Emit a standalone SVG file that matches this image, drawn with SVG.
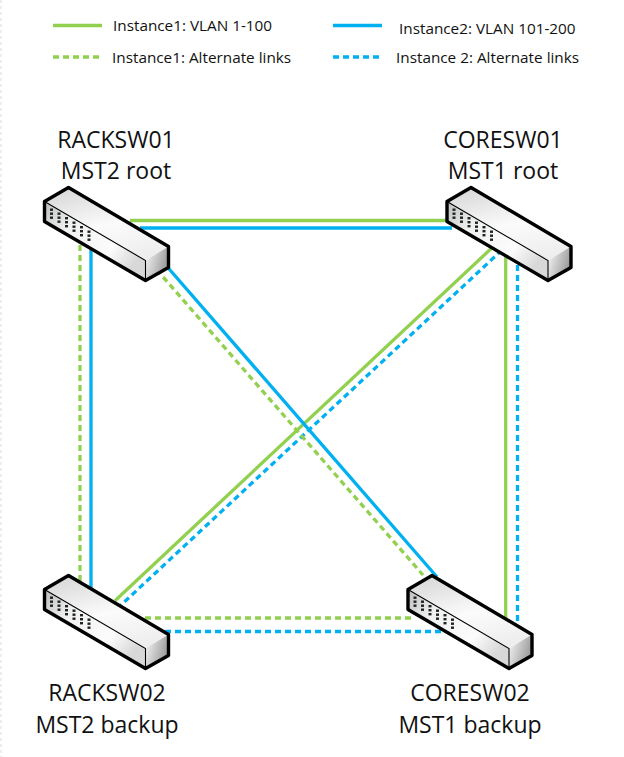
<svg xmlns="http://www.w3.org/2000/svg" width="624" height="757" viewBox="0 0 624 757">
  <style>
    text { font-family: "Open Sans", "Liberation Sans", sans-serif; fill: #111111; }
    .legend { font-size: 15.300px; }
    .name { font-size: 23px; text-anchor: middle; }
    .link { fill: none; stroke-width: 3.300; }
    .green { stroke: #92d050; }
    .blue { stroke: #00b0f0; }
    .dash { stroke-dasharray: 6 4; }
    .edge { stroke: #000; stroke-width: 3.4; stroke-linejoin: round; fill: none; }
    .crease { stroke: #000; stroke-width: 1.1; fill: none; }
    .port { fill: #1f2622; }
  </style>
  <defs>
    <linearGradient id="topFace" x1="0.2" y1="0" x2="0.6" y2="1">
      <stop offset="0" stop-color="#d8d8d8"/>
      <stop offset="0.55" stop-color="#fbfbfb"/>
      <stop offset="1" stop-color="#eeeeee"/>
    </linearGradient>
    <linearGradient id="frontFace" x1="0" y1="0" x2="1" y2="0.6">
      <stop offset="0" stop-color="#bdbdbd"/>
      <stop offset="0.3" stop-color="#f0f0f0"/>
      <stop offset="0.75" stop-color="#fcfcfc"/>
      <stop offset="1" stop-color="#d8d8d8"/>
    </linearGradient>
    <linearGradient id="endFace" x1="0" y1="0" x2="1" y2="0.4">
      <stop offset="0" stop-color="#fafafa"/>
      <stop offset="1" stop-color="#9a9a9a"/>
    </linearGradient>
    <g id="switch">
      <path d="M24 -14 L124 45 L101 59 L0 0 Z" fill="url(#topFace)"/>
      <path d="M0 0 L101 59 L101 79 L0 20 Z" fill="url(#frontFace)"/>
      <path d="M101 59 L124 45 L124 66 L101 79 Z" fill="url(#endFace)"/>
      <path class="edge" d="M0 0 L24 -14 L124 45 L124 66 L101 79 L0 20 Z"/>
      <path class="crease" d="M0 0 L101 59 L101 79"/>
      <g class="port">
        <rect x="5.500" y="7" width="3" height="2.400"/><rect x="5.500" y="11" width="3" height="2.400"/><rect x="5.500" y="15" width="3" height="2.400"/>
        <rect x="13" y="11" width="3" height="2.400"/><rect x="13" y="15" width="3" height="2.400"/><rect x="13" y="19" width="3" height="2.400"/>
        <rect x="20.500" y="15.500" width="3" height="2.400"/><rect x="20.500" y="19.500" width="3" height="2.400"/><rect x="20.500" y="23.500" width="3" height="2.400"/>
        <rect x="28" y="20" width="3" height="2.400"/><rect x="28" y="24" width="3" height="2.400"/><rect x="28" y="28" width="3" height="2.400"/>
        <rect x="35.500" y="24.500" width="3" height="2.400"/><rect x="35.500" y="28.500" width="3" height="2.400"/><rect x="35.500" y="32.500" width="3" height="2.400"/>
        <rect x="43" y="29" width="3" height="2.400"/><rect x="43" y="33" width="3" height="2.400"/><rect x="43" y="37" width="3" height="2.400"/>
      </g>
    </g>
  </defs>

  <rect width="624" height="757" fill="#ffffff"/>
  <path d="M1 0 V757" stroke="#dcdcdc" stroke-width="1" stroke-dasharray="3 3" fill="none"/>

  <g id="legend">
    <path class="link green" d="M53 25.500 H102"/>
    <path class="link blue" d="M333 25.500 H382"/>
    <path class="link green dash" d="M53 57 H100"/>
    <path class="link blue dash" d="M333 57 H380"/>
    <text class="legend" x="113" y="31">Instance1: VLAN 1-100</text>
    <text class="legend" x="399" y="34">Instance2: VLAN 101-200</text>
    <text class="legend" x="112" y="62.500">Instance1: Alternate links</text>
    <text class="legend" x="396" y="62.500">Instance 2: Alternate links</text>
  </g>

  <g id="connectors">
    <path class="link green" d="M130 220.500 H450"/>
    <path class="link blue" d="M140 228 H452"/>
    <path class="link blue" d="M91 250 V592"/>
    <path class="link green dash" d="M80 245 V582"/>
    <path class="link green" d="M505.700 255 V620"/>
    <path class="link blue dash" d="M517.500 265 V625"/>
    <path class="link green" d="M495 245 L115 600.700"/>
    <path class="link blue dash" d="M502 250 L120 606"/>
    <path class="link blue" d="M160 258.500 L437 577"/>
    <path class="link green dash" d="M150 262 L423 575"/>
    <path class="link green dash" d="M145 618 H415"/>
    <path class="link blue dash" d="M165 631.500 H445"/>
  </g>

  <g id="RACKSW01">
    <use href="#switch" x="44.500" y="201.500"/>
    <text class="name" x="116" y="148">RACKSW01</text>
    <text class="name" x="116" y="179">MST2 root</text>
  </g>
  <g id="CORESW01">
    <use href="#switch" x="447" y="201.500"/>
    <text class="name" x="503" y="148">CORESW01</text>
    <text class="name" x="503" y="179">MST1 root</text>
  </g>
  <g id="RACKSW02">
    <use href="#switch" x="44.500" y="589.500"/>
    <text class="name" x="107" y="701">RACKSW02</text>
    <text class="name" x="107" y="733">MST2 backup</text>
  </g>
  <g id="CORESW02">
    <use href="#switch" x="408" y="589.500"/>
    <text class="name" x="470" y="701">CORESW02</text>
    <text class="name" x="470" y="733">MST1 backup</text>
  </g>
</svg>
